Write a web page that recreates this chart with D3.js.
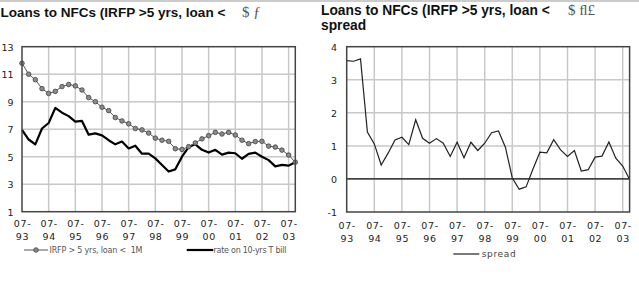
<!DOCTYPE html>
<html><head><meta charset="utf-8">
<script src="https://cdn.jsdelivr.net/npm/d3@7"></script>
<style>body{margin:0;background:#fff}svg{display:block}</style>
</head><body>
<svg id="c" width="639" height="290"></svg>
<script>
const quarters = ["07-93","10-93","01-94","04-94","07-94","10-94","01-95","04-95","07-95","10-95","01-96","04-96",
"07-96","10-96","01-97","04-97","07-97","10-97","01-98","04-98","07-98","10-98","01-99","04-99",
"07-99","10-99","01-00","04-00","07-00","10-00","01-01","04-01","07-01","10-01","01-02","04-02",
"07-02","10-02","01-03","04-03","07-03","10-03"];
const irfp = [11.8,11.0,10.6,9.95,9.6,9.75,10.1,10.25,10.15,9.85,9.3,9.0,8.6,8.35,7.85,7.6,7.4,7.05,6.95,6.72,
6.35,6.2,6.12,5.58,5.53,5.73,6.0,6.3,6.53,6.77,6.65,6.77,6.58,6.2,5.95,6.1,6.12,5.77,5.7,5.48,5.12,4.6];
const tbill = [6.95,6.25,5.9,7.05,7.45,8.55,8.2,7.95,7.55,7.6,6.6,6.7,6.55,6.2,5.9,6.1,5.6,5.8,5.22,5.22,
4.88,4.4,3.92,4.08,5.0,5.7,5.9,5.5,5.3,5.5,5.15,5.3,5.25,4.85,5.2,5.3,5.0,4.75,4.3,4.4,4.35,4.6];
const spread = [3.58,3.56,3.63,1.42,1.06,0.42,0.78,1.18,1.26,1.04,1.79,1.23,1.08,1.22,1.08,0.68,1.11,0.64,1.11,0.86,
1.08,1.40,1.45,0.96,0.03,-0.31,-0.24,0.3,0.81,0.79,1.19,0.88,0.68,0.86,0.24,0.28,0.66,0.69,1.12,0.63,0.39,-0.02];
const xTicks = ["07-93","07-94","07-95","07-96","07-97","07-98","07-99","07-00","07-01","07-02","07-03"];
const yTicksL = [1,3,5,7,9,11,13];
const yTicksR = [-1,0,1,2,3,4];
const titleText = "Loans to NFCs (IRFP >5 yrs, loan <";
const legendL = ["IRFP > 5 yrs, loan <  1M","rate on 10-yrs T bill"];
const legendR = ["spread"];

const svg = d3.select("#c");
svg.append("line").attr("x1",0).attr("x2",639).attr("y1",1).attr("y2",1).attr("stroke","#999").attr("stroke-width",1);

function fitTitle(t, w){
  let fs = 13; t.attr("font-size",fs);
  const len = t.node().getComputedTextLength();
  t.attr("font-size", fs*w/len);
}
// titles
const t1 = svg.append("text").attr("x",0.5).attr("y",16.5).attr("font-family","Liberation Sans, Arial, sans-serif")
  .attr("font-weight","bold").attr("fill","#111").text(titleText);
fitTitle(t1,225);
svg.append("text").attr("x",242).attr("y",17).attr("font-family","Liberation Serif, serif").attr("font-size",15)
  .attr("fill","#555").text("$ ƒ");
const t2 = svg.append("text").attr("x",321).attr("y",14.7).attr("font-family","Liberation Sans, Arial, sans-serif")
  .attr("font-weight","bold").attr("fill","#111").text(titleText);
fitTitle(t2,229);
svg.append("text").attr("x",568).attr("y",15).attr("font-family","Liberation Serif, serif").attr("font-size",15)
  .attr("fill","#555").text("$ ﬂ£");
svg.append("text").attr("x",321).attr("y",29.5).attr("font-family","Liberation Sans, Arial, sans-serif")
  .attr("font-weight","bold").attr("fill","#111").attr("font-size",t2.attr("font-size")).text("spread");

function panel(x0,x1,y0,y1,ydom,yticks,labelX,xlabY){
  const x = d3.scalePoint().domain(quarters).range([x0,x1]).padding(0);
  const y = d3.scaleLinear().domain(ydom).range([y1,y0]);
  const g = svg.append("g");
  // grid
  g.selectAll(".hg").data(yticks.filter(v=>v!==ydom[0]&&v!==ydom[1])).enter().append("line")
    .attr("x1",x0).attr("x2",x1).attr("y1",d=>y(d)).attr("y2",d=>y(d)).attr("stroke","#c8c8c8").attr("stroke-width",1.5);
  g.selectAll(".vg").data(xTicks.slice(1)).enter().append("line")
    .attr("x1",d=>x(d)).attr("x2",d=>x(d)).attr("y1",y0).attr("y2",y1).attr("stroke","#c8c8c8").attr("stroke-width",1.5);
  // y labels
  const ya = d3.axisLeft(y).tickValues(yticks).tickSize(0).tickPadding(0).tickFormat(d=>String(d));
  const yg = g.append("g").attr("transform",`translate(${labelX},0)`).call(ya);
  yg.select(".domain").remove();
  yg.selectAll("text").attr("font-family","DejaVu Sans, sans-serif").attr("font-size",9.5).attr("fill","#222").attr("dy","0.35em");
  // x labels
  const xa = d3.axisBottom(x).tickValues(xTicks).tickSize(0).tickFormat("");
  const xg = g.append("g").attr("transform",`translate(0,${y1})`).call(xa);
  xg.select(".domain").remove();
  xg.selectAll(".tick").each(function(d){
    const s = d3.select(this);
    s.append("text").attr("y",xlabY[0]-y1).attr("text-anchor","middle").attr("font-family","DejaVu Sans, sans-serif")
      .attr("font-size",9.5).attr("fill","#222").attr("letter-spacing",0.6).text(d.slice(0,3));
    s.append("text").attr("y",xlabY[1]-y1).attr("text-anchor","middle").attr("font-family","DejaVu Sans, sans-serif")
      .attr("font-size",9.5).attr("fill","#222").attr("letter-spacing",0.6).text(d.slice(3));
  });
  return {x,y,g,frame:()=>g.append("rect").attr("x",x0).attr("y",y0).attr("width",x1-x0).attr("height",y1-y0)
    .attr("fill","none").attr("stroke","#444").attr("stroke-width",1.5)};
}

// left panel
const L = panel(22,295.3,46.7,211.7,[1,13],yTicksL,13.5,[227,240]);
const lineL = d3.line().x((d,i)=>L.x(quarters[i])).y(d=>L.y(d));
L.g.append("path").datum(tbill).attr("d",lineL).attr("fill","none").attr("stroke","#000").attr("stroke-width",2.2).attr("stroke-linejoin","round");
L.g.append("path").datum(irfp).attr("d",lineL).attr("fill","none").attr("stroke","#555").attr("stroke-width",1);
L.g.selectAll(".m").data(irfp).enter().append("circle").attr("cx",(d,i)=>L.x(quarters[i])).attr("cy",d=>L.y(d))
  .attr("r",2.3).attr("fill","#8a8a8a").attr("stroke","#444").attr("stroke-width",0.8);
L.frame();

// right panel
const R = panel(346.7,629.6,46.7,212,[-1,4],yTicksR,337,[228.5,241.5]);
R.g.append("line").attr("x1",346.7).attr("x2",629.6).attr("y1",R.y(0)).attr("y2",R.y(0)).attr("stroke","#111").attr("stroke-width",1.2);
const lineR = d3.line().x((d,i)=>R.x(quarters[i])).y(d=>R.y(d));
R.g.append("path").datum(spread).attr("d",lineR).attr("fill","none").attr("stroke","#222").attr("stroke-width",1.2);
R.frame();

// legends
const lf = "DejaVu Sans, sans-serif";
svg.append("line").attr("x1",24).attr("x2",48).attr("y1",250).attr("y2",250).attr("stroke","#555").attr("stroke-width",1);
svg.append("circle").attr("cx",36).attr("cy",250).attr("r",2.3).attr("fill","#8a8a8a").attr("stroke","#444").attr("stroke-width",0.8);
svg.append("text").attr("x",49.5).attr("y",253).attr("font-family",lf).attr("font-size",8).attr("fill","#555")
  .attr("textLength",93).attr("lengthAdjust","spacing").attr("xml:space","preserve").text(legendL[0]);
svg.append("line").attr("x1",186.7).attr("x2",213.3).attr("y1",250).attr("y2",250).attr("stroke","#000").attr("stroke-width",2.2);
svg.append("text").attr("x",213.5).attr("y",253).attr("font-family",lf).attr("font-size",8).attr("fill","#555")
  .attr("textLength",73).attr("lengthAdjust","spacing").text(legendL[1]);
svg.append("line").attr("x1",453.3).attr("x2",479.3).attr("y1",254).attr("y2",254).attr("stroke","#222").attr("stroke-width",1.2);
svg.append("text").attr("x",481.7).attr("y",257).attr("font-family",lf).attr("font-size",9).attr("fill","#444")
  .attr("textLength",34).attr("lengthAdjust","spacing").text(legendR[0]);
</script>
</body></html>
